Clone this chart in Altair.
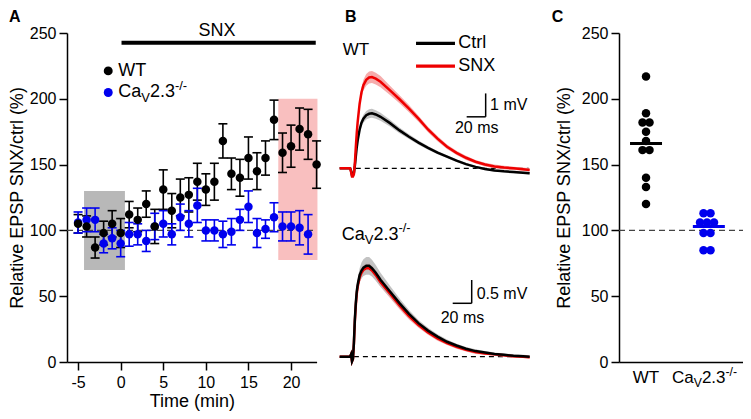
import altair as alt
import pandas as pd
from collections import Counter

FONT = "Liberation Sans"
BLACK = "#000000"
BLUE = "#0000EE"
RED = "#EE0000"
GRAYBOX = "#B8B8B8"
PINKBOX = "#F9BFBF"
PINKBAND = "#F5A3A3"
GRAYBAND = "#BDBDBD"

# ---------------- Panel A data ----------------
a_time_wt = list(range(-5, 24))
a_wt_mean = [105, 103, 87, 98, 105, 98, 112, 108, 120, 103, 131, 115, 125, 127, 137,
             131, 137, 168, 143, 140, 155, 145, 155, 184, 159, 164, 177, 173, 150]
a_wt_sem = [7, 8, 8, 9, 10, 11, 10, 9, 10, 13, 15, 13, 14, 13, 14,
            12, 14, 13, 12, 14, 16, 14, 13, 15, 15, 16, 16, 19, 18]
a_time_cav = list(range(-5, 23))
a_cav_mean = [106, 108, 108, 90, 94, 90, 97, 97, 92, 103, 105, 97, 110, 105, 119,
              100, 100, 97, 99, 108, 118, 98, 101, 110, 103, 103, 102, 97]
a_cav_sem = [8, 9, 9, 7, 8, 10, 9, 8, 8, 10, 10, 8, 10, 10, 13,
             8, 8, 10, 10, 8, 12, 11, 7, 11, 11, 11, 13, 15]
a_x_ticks = [-5, 0, 5, 10, 15, 20]
a_y_ticks = [0, 50, 100, 150, 200, 250]
a_x_domain = [-6.3, 23.0]
a_y_domain = [0, 250]
a_gray_box = {"t0": -4.3, "t1": 0.5, "v0": 70, "v1": 130}
a_pink_box = {"t0": 18.5, "t1": 23.1, "v0": 77.5, "v1": 200}
a_snx_period = [0.1, 22.9]
a_snx_level = 242.5

# ---------------- Panel B data ----------------
b_time = [-13, -2, -1, 0, 1, 2, 3, 4, 5, 6, 8, 10, 12, 15, 18, 21, 25, 30, 40, 50,
          60, 70, 80, 90, 100, 110, 120, 130, 140, 150, 160, 170, 180, 187]
b_wt_ctrl = [0, 0, -0.1, -0.3, -0.3, -0.2, 0.1, 0.5, 0.9, 1.2, 1.65, 1.95, 2.12, 2.27,
             2.33, 2.35, 2.3, 2.2, 1.93, 1.62, 1.35, 1.1, 0.87, 0.67, 0.5, 0.33, 0.18,
             0.06, -0.03, -0.09, -0.13, -0.16, -0.19, -0.21]
b_wt_ctrl_sem = [0.02, 0.02, 0.02, 0.02, 0.02, 0.02, 0.03, 0.05, 0.07, 0.09, 0.12, 0.15,
                 0.17, 0.18, 0.19, 0.19, 0.18, 0.17, 0.14, 0.12, 0.1, 0.09, 0.08, 0.07,
                 0.06, 0.06, 0.05, 0.05, 0.05, 0.05, 0.05, 0.05, 0.05, 0.05]
b_wt_snx = [0, 0, -0.15, -0.35, -0.35, -0.25, 0.2, 0.9, 1.5, 2.0, 2.75, 3.25, 3.55, 3.78,
            3.88, 3.9, 3.83, 3.7, 3.33, 2.95, 2.55, 2.12, 1.66, 1.27, 0.92, 0.66, 0.45,
            0.28, 0.16, 0.08, 0.03, 0.0, -0.04, -0.07]
b_wt_snx_sem = [0.02, 0.02, 0.03, 0.03, 0.03, 0.03, 0.05, 0.08, 0.1, 0.12, 0.16, 0.2,
                0.23, 0.25, 0.26, 0.26, 0.25, 0.24, 0.2, 0.17, 0.15, 0.13, 0.12, 0.11,
                0.1, 0.09, 0.09, 0.08, 0.08, 0.08, 0.08, 0.07, 0.07, 0.07]
b_cav_ctrl = [0, 0, 0.05, -0.1, -0.05, 0.3, 0.8, 1.15, 1.4, 1.55, 1.75, 1.85, 1.91, 1.95,
              1.95, 1.9, 1.8, 1.65, 1.4, 1.15, 0.92, 0.72, 0.56, 0.43, 0.32, 0.24, 0.17,
              0.12, 0.09, 0.06, 0.04, 0.02, 0.01, 0.0]
b_cav_ctrl_sem = [0.02, 0.02, 0.02, 0.02, 0.02, 0.02, 0.04, 0.07, 0.1, 0.12, 0.15, 0.17,
                  0.18, 0.19, 0.19, 0.18, 0.17, 0.15, 0.12, 0.1, 0.08, 0.07, 0.06, 0.05,
                  0.05, 0.04, 0.04, 0.04, 0.03, 0.03, 0.03, 0.03, 0.03, 0.03]
b_cav_snx = [0, 0, 0.05, -0.1, -0.05, 0.28, 0.76, 1.1, 1.35, 1.5, 1.7, 1.8, 1.86, 1.9,
             1.9, 1.85, 1.75, 1.6, 1.35, 1.1, 0.87, 0.68, 0.52, 0.39, 0.29, 0.21, 0.15,
             0.1, 0.07, 0.05, 0.03, 0.01, 0.0, -0.01]
b_cav_snx_sem = [0.02, 0.02, 0.02, 0.02, 0.02, 0.02, 0.03, 0.05, 0.07, 0.09, 0.1, 0.11,
                 0.12, 0.12, 0.12, 0.12, 0.11, 0.1, 0.09, 0.08, 0.07, 0.06, 0.05, 0.05,
                 0.04, 0.04, 0.04, 0.04, 0.03, 0.03, 0.03, 0.03, 0.03, 0.03]
b_wt_dash = [4, 186]
b_cav_dash = [2, 180]
b_wt_bar_t = [120.7, 140.7]
b_wt_bar_mv = [2.2, 3.2]
b_cav_bar_t = [106, 126]
b_cav_bar_mv = [1.146, 1.646]

# ---------------- Panel C data ----------------
c_groups = ["WT", "CaV"]
c_wt = [217, 189, 182, 182, 175, 168, 161, 161, 140, 133, 120]
c_cav = [113, 113, 106, 106, 106, 98, 98, 85, 85]
c_means = [166, 103]

# ---------------- scales (pixel ranges inside one 735x403 canvas) ----------------
def S(domain, rng):
    return alt.Scale(domain=domain, range=rng, nice=False, zero=False)

SA_X = S(a_x_domain, [59, 308.6])
SA_Y = S(a_y_domain, [354, 25])
SB_X = S([-15, 190], [329.75, 524.5])
SB_WY = S([-1, 5], [183.7, 43.3])
SB_CY = S([-1, 3], [395.3, 208.9])
C_X_DOMAIN = [-0.443, 1.721]
SC_X = S(C_X_DOMAIN, [611, 743])
SC_Y = S(a_y_domain, [354, 25])


def XY(xs, ys, xf="x", yf="y", xaxis=None, yaxis=None):
    return dict(x=alt.X(f"{xf}:Q", scale=xs, axis=xaxis),
                y=alt.Y(f"{yf}:Q", scale=ys, axis=yaxis))


def one(x, y):
    return pd.DataFrame({"x": [x], "y": [y]})


def text(x, y, xs, ys, s, fs=18, align="left", dx=0, dy=0, bold=False):
    return alt.Chart(one(x, y)).mark_text(
        text=s, font=FONT, fontSize=fs, align=align, baseline="middle",
        dx=dx, dy=dy, color="black", fontWeight="bold" if bold else "normal"
    ).encode(**XY(xs, ys))


def cav_label(x, y, xs, ys, F=18, dx0=0):
    s = 0.72 * F
    w_ca = 1.278 * F
    w_v = 0.667 * s
    w_23 = 1.39 * F
    pieces = [("Ca", F, 0, 0), ("V", s, w_ca, 0.3 * F),
              ("2.3", F, w_ca + w_v, 0), ("-/-", s, w_ca + w_v + w_23, -0.38 * F)]
    return [text(x, y, xs, ys, t, fs=f, dx=dx0 + d, dy=dd) for t, f, d, dd in pieces]


AXIS_STYLE = dict(grid=False, tickSize=8, tickWidth=1.5, tickColor="black",
                  domainColor="black", domainWidth=1.5, labelFont=FONT, labelFontSize=16,
                  labelColor="black", titleFont=FONT, titleFontSize=18,
                  titleFontWeight="normal", titleColor="black")


def y_axis(offset, tpad):
    return alt.Axis(orient="left", offset=offset, values=a_y_ticks,
                    title="Relative EPSP SNX/ctrl (%)", labelPadding=3, titlePadding=tpad,
                    **AXIS_STYLE)


layers = []

# ================= Panel A =================
for box, col in [(a_gray_box, GRAYBOX), (a_pink_box, PINKBOX)]:
    layers.append(alt.Chart(pd.DataFrame([box])).mark_rect(color=col, opacity=1).encode(
        x=alt.X("t0:Q", scale=SA_X, axis=None), x2="t1:Q",
        y=alt.Y("v0:Q", scale=SA_Y, axis=None), y2="v1:Q"))

a_xaxis = alt.Axis(orient="bottom", offset=-49, values=a_x_ticks, title="Time (min)",
                   labelPadding=4, titlePadding=2,
                   labelExpr="datum.value < 0 ? '-' + abs(datum.value) : '' + datum.value",
                   **AXIS_STYLE)
layers.append(alt.Chart(pd.DataFrame({"x": [a_x_domain[0]], "x2": [a_x_domain[1]], "y": [100]}))
              .mark_rule(color="#444444", strokeWidth=1.3, strokeDash=[6, 4])
              .encode(x=alt.X("x:Q", scale=SA_X, axis=a_xaxis), x2="x2:Q",
                      y=alt.Y("y:Q", scale=SA_Y, axis=y_axis(-59, 3))))

layers.append(alt.Chart(pd.DataFrame({"x": [a_snx_period[0]], "x2": [a_snx_period[1]], "y": [a_snx_level]}))
              .mark_rule(color="black", strokeWidth=4)
              .encode(x=alt.X("x:Q", scale=SA_X, axis=None), x2="x2:Q",
                      y=alt.Y("y:Q", scale=SA_Y, axis=None)))
layers.append(text(11.3, 251.5, SA_X, SA_Y, "SNX", fs=18, align="center"))

df_wt = pd.DataFrame({"x": a_time_wt, "y": a_wt_mean, "sem": a_wt_sem})
df_cav = pd.DataFrame({"x": a_time_cav, "y": a_cav_mean, "sem": a_cav_sem})
for d in (df_wt, df_cav):
    d["lo"] = d["y"] - d["sem"]
    d["hi"] = d["y"] + d["sem"]

for d, col in [(df_wt, BLACK), (df_cav, BLUE)]:
    layers.append(alt.Chart(d).mark_rule(color=col, strokeWidth=1.6).encode(
        x=alt.X("x:Q", scale=SA_X, axis=None),
        y=alt.Y("lo:Q", scale=SA_Y, axis=None), y2="hi:Q"))
    for f in ("lo", "hi"):
        layers.append(alt.Chart(d).mark_tick(color=col, orient="horizontal", size=9,
                                             thickness=1.6, opacity=1)
                      .encode(**XY(SA_X, SA_Y, yf=f)))
for d, col in [(df_cav, BLUE), (df_wt, BLACK)]:
    layers.append(alt.Chart(d).mark_circle(color=col, size=72, opacity=1)
                  .encode(**XY(SA_X, SA_Y)))

# legend A
layers.append(alt.Chart(one(-1.46, 221.2)).mark_circle(color=BLACK, size=80, opacity=1)
              .encode(**XY(SA_X, SA_Y)))
layers.append(alt.Chart(one(-1.46, 204.8)).mark_circle(color=BLUE, size=80, opacity=1)
              .encode(**XY(SA_X, SA_Y)))
layers.append(text(-1.46, 221.2, SA_X, SA_Y, "WT", fs=18, dx=10))
layers += cav_label(-1.46, 204.8, SA_X, SA_Y, F=18, dx0=10)
layers.append(text(-13.1, 262.2, SA_X, SA_Y, "A", fs=16, bold=True))

# ================= Panel B =================
df_b = pd.DataFrame({"x": b_time,
                     "wc": b_wt_ctrl, "wcs": b_wt_ctrl_sem,
                     "ws": b_wt_snx, "wss": b_wt_snx_sem,
                     "cc": b_cav_ctrl, "ccs": b_cav_ctrl_sem,
                     "cs": b_cav_snx, "css": b_cav_snx_sem})
for k in ("wc", "ws", "cc", "cs"):
    df_b[k + "_lo"] = df_b[k] - df_b[k + "s"]
    df_b[k + "_hi"] = df_b[k] + df_b[k + "s"]


def dash(span, ys):
    return (alt.Chart(pd.DataFrame({"x": [span[0]], "x2": [span[1]], "y": [0]}))
            .mark_rule(color="black", strokeWidth=1.2, strokeDash=[5, 4])
            .encode(x=alt.X("x:Q", scale=SB_X, axis=None), x2="x2:Q",
                    y=alt.Y("y:Q", scale=ys, axis=None)))


def band(k, ys, col):
    return alt.Chart(df_b).mark_area(color=col, opacity=0.9).encode(
        x=alt.X("x:Q", scale=SB_X, axis=None),
        y=alt.Y(f"{k}_lo:Q", scale=ys, axis=None), y2=f"{k}_hi:Q")


def trace(k, ys, col):
    return alt.Chart(df_b).mark_line(color=col, strokeWidth=2.5).encode(
        x=alt.X("x:Q", scale=SB_X, axis=None),
        y=alt.Y(f"{k}:Q", scale=ys, axis=None))


def scalebar(bt, bmv, ys):
    return [
        alt.Chart(pd.DataFrame({"x": [bt[0]], "x2": [bt[1]], "y": [bmv[0]]}))
        .mark_rule(color="black", strokeWidth=1.5)
        .encode(x=alt.X("x:Q", scale=SB_X, axis=None), x2="x2:Q",
                y=alt.Y("y:Q", scale=ys, axis=None)),
        alt.Chart(pd.DataFrame({"x": [bt[1]], "y": [bmv[0]], "y2": [bmv[1]]}))
        .mark_rule(color="black", strokeWidth=1.5)
        .encode(x=alt.X("x:Q", scale=SB_X, axis=None),
                y=alt.Y("y:Q", scale=ys, axis=None), y2="y2:Q"),
    ]


# WT traces
layers.append(dash(b_wt_dash, SB_WY))
layers.append(band("wc", SB_WY, GRAYBAND))
layers.append(band("ws", SB_WY, PINKBAND))
layers.append(trace("wc", SB_WY, BLACK))
layers.append(trace("ws", SB_WY, RED))
layers += scalebar(b_wt_bar_t, b_wt_bar_mv, SB_WY)
layers.append(text(145.3, 2.7, SB_X, SB_WY, "1 mV", fs=16))
layers.append(text(131.3, 1.71, SB_X, SB_WY, "20 ms", fs=16, align="center"))
layers.append(text(-9.8, 5.06, SB_X, SB_WY, "WT", fs=17))
for mv, col, lab in [(5.34, BLACK, "Ctrl"), (4.37, RED, "SNX")]:
    layers.append(alt.Chart(pd.DataFrame({"x": [67.4], "x2": [108.4], "y": [mv]}))
                  .mark_rule(color=col, strokeWidth=3.2)
                  .encode(x=alt.X("x:Q", scale=SB_X, axis=None), x2="x2:Q",
                          y=alt.Y("y:Q", scale=SB_WY, axis=None)))
    layers.append(text(111.9, mv, SB_X, SB_WY, lab, fs=18))
layers.append(text(-7.4, 6.47, SB_X, SB_WY, "B", fs=16, bold=True))

# CaV traces
layers.append(dash(b_cav_dash, SB_CY))
layers.append(band("cs", SB_CY, PINKBAND))
layers.append(band("cc", SB_CY, GRAYBAND))
layers.append(trace("cs", SB_CY, RED))
layers.append(trace("cc", SB_CY, BLACK))
layers += scalebar(b_cav_bar_t, b_cav_bar_mv, SB_CY)
layers.append(text(131.2, 1.345, SB_X, SB_CY, "0.5 mV", fs=16))
layers.append(text(116.3, 0.824, SB_X, SB_CY, "20 ms", fs=16, align="center"))
layers += cav_label(-10.8, 2.61, SB_X, SB_CY, F=18)

# ================= Panel C =================
c_xaxis = alt.Axis(orient="bottom", offset=-49, ticks=False, labels=False, title="",
                   grid=False, domainColor="black", domainWidth=1.5)
layers.append(alt.Chart(pd.DataFrame({"x": [C_X_DOMAIN[0]], "x2": [C_X_DOMAIN[1]], "y": [100]}))
              .mark_rule(color="#444444", strokeWidth=1.3, strokeDash=[6, 4])
              .encode(x=alt.X("x:Q", scale=SC_X, axis=c_xaxis), x2="x2:Q",
                      y=alt.Y("y:Q", scale=SC_Y, axis=y_axis(-611, 8))))


def swarm(vals, center, spacing):
    cnt = Counter(vals)
    seen = {}
    out = []
    for v in vals:
        n = cnt[v]
        i = seen.get(v, 0)
        seen[v] = i + 1
        out.append(center + (i - (n - 1) / 2) * spacing)
    return out


SP = 7.0 / 61.0
df_cw = pd.DataFrame({"x": swarm(c_wt, 0, SP), "y": c_wt})
df_cc = pd.DataFrame({"x": swarm(c_cav, 1, SP), "y": c_cav})
layers.append(alt.Chart(df_cw).mark_circle(color=BLACK, size=72, opacity=1)
              .encode(**XY(SC_X, SC_Y)))
layers.append(alt.Chart(df_cc).mark_circle(color=BLUE, size=72, opacity=1)
              .encode(**XY(SC_X, SC_Y)))
df_cm = pd.DataFrame({"x": [0, 1.03], "y": c_means, "g": c_groups})
layers.append(alt.Chart(df_cm).mark_tick(orient="horizontal", size=32, thickness=3, opacity=1)
              .encode(**XY(SC_X, SC_Y),
                      color=alt.Color("g:N", scale=alt.Scale(domain=c_groups, range=[BLACK, BLUE]),
                                      legend=None)))
layers.append(text(0, -12.4, SC_X, SC_Y, "WT", fs=17, align="center"))
layers += cav_label(1, -12.4, SC_X, SC_Y, F=17, dx0=-35)
layers.append(text(-1.546, 262.2, SC_X, SC_Y, "C", fs=16, bold=True))

chart = (alt.layer(*layers)
         .resolve_scale(x="independent", y="independent", color="independent")
         .properties(width=735, height=403, padding=0,
                     autosize=alt.AutoSizeParams(type="none"))
         .configure_view(stroke=None))

chart.save("out.html", embed_options={"renderer": "svg", "actions": False})
